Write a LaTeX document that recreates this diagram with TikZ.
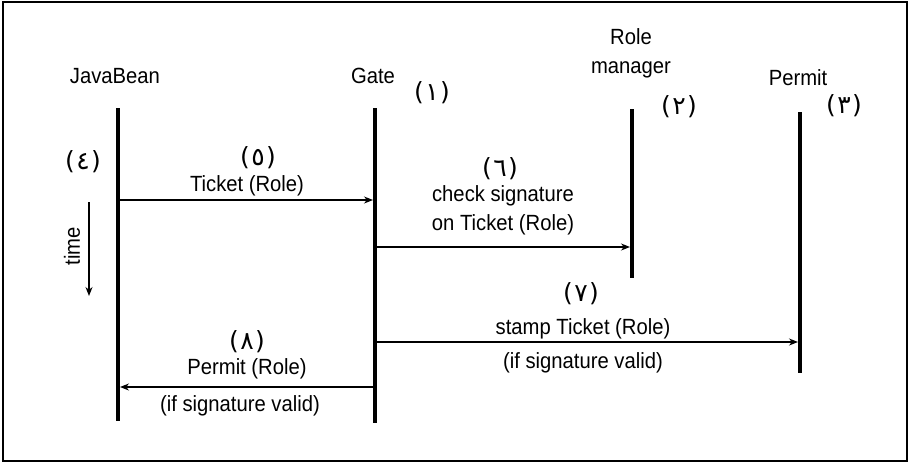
\documentclass[tikz,border=0pt]{standalone}
\usepackage{fontspec}
\setmainfont{Liberation Sans}[FakeStretch=0.92]
\newfontfamily\numfont{DejaVu Sans}
\usetikzlibrary{arrows.meta}
\tikzset{
  lbl/.style={font=\fontsize{22}{29}\selectfont, inner sep=0pt, align=center},
  num/.style={font=\numfont\fontsize{25}{28}\selectfont, inner sep=0pt},
  life/.style={line width=4pt},
  msg/.style={line width=1.3pt, -{Stealth[length=9pt,width=7pt]}},
}
\newcommand{\ar}[1]{(\kern1.5pt#1\kern1.5pt)}
\begin{document}
\begin{tikzpicture}[x=1pt,y=-1pt]
\useasboundingbox (0,0) rectangle (913,464);
\draw[line width=1.5pt] (3,2) rectangle (907,461);

% participants
\node[lbl] (jb) at (115,76) {JavaBean};
\node[lbl] (gt) at (373,76) {Gate};
\node[lbl] (rm) at (631,53) {Role\\manager};
\node[lbl] (pm) at (798,78) {Permit};

\node[num] (n1) at (432,93) {\ar{١}};
\node[num] (n2) at (679,107) {\ar{٢}};
\node[num] (n3) at (844,106) {\ar{٣}};
\node[num] (n4) at (83,162) {\ar{٤}};

% lifelines
\coordinate (jbT) at (118,108); \coordinate (jbB) at (118,421);
\coordinate (gtT) at (375,108); \coordinate (gtB) at (375,423);
\coordinate (rmT) at (632,109); \coordinate (rmB) at (632,278);
\coordinate (pmT) at (800,112); \coordinate (pmB) at (800,373);
\draw[life] (jbT) -- (jbB);
\draw[life] (gtT) -- (gtB);
\draw[life] (rmT) -- (rmB);
\draw[life] (pmT) -- (pmB);

% time axis
\coordinate (tA) at (89,202); \coordinate (tB) at (89,296);
\draw[msg] (tA) -- (tB);
\node[lbl, rotate=90] (tm) at (72,246) {time};

% messages
\coordinate (m5a) at (120,200); \coordinate (m5b) at (373,200);
\draw[msg] (m5a) -- (m5b);
\node[num] (n5) at (258,158) {\ar{٥}};
\node[lbl] (l5) at (247,186) {Ticket (Role)};

\coordinate (m6a) at (377,247); \coordinate (m6b) at (630,247);
\draw[msg] (m6a) -- (m6b);
\node[num] (n6) at (500,169) {\ar{٦}};
\node[lbl] (l6) at (503,210) {check signature\\on Ticket (Role)};

\coordinate (m7a) at (377,342); \coordinate (m7b) at (798,342);
\draw[msg] (m7a) -- (m7b);
\node[num] (n7) at (581,294) {\ar{٧}};
\node[lbl] (l7) at (583,329) {stamp Ticket (Role)};
\node[lbl] (l7b) at (583,363) {(if signature valid)};

\coordinate (m8a) at (373,387); \coordinate (m8b) at (120,387);
\draw[msg] (m8a) -- (m8b);
\node[num] (n8) at (247,342) {\ar{٨}};
\node[lbl] (l8) at (247,369) {Permit (Role)};
\node[lbl] (l8b) at (240,406) {(if signature valid)};
\end{tikzpicture}
\end{document}
